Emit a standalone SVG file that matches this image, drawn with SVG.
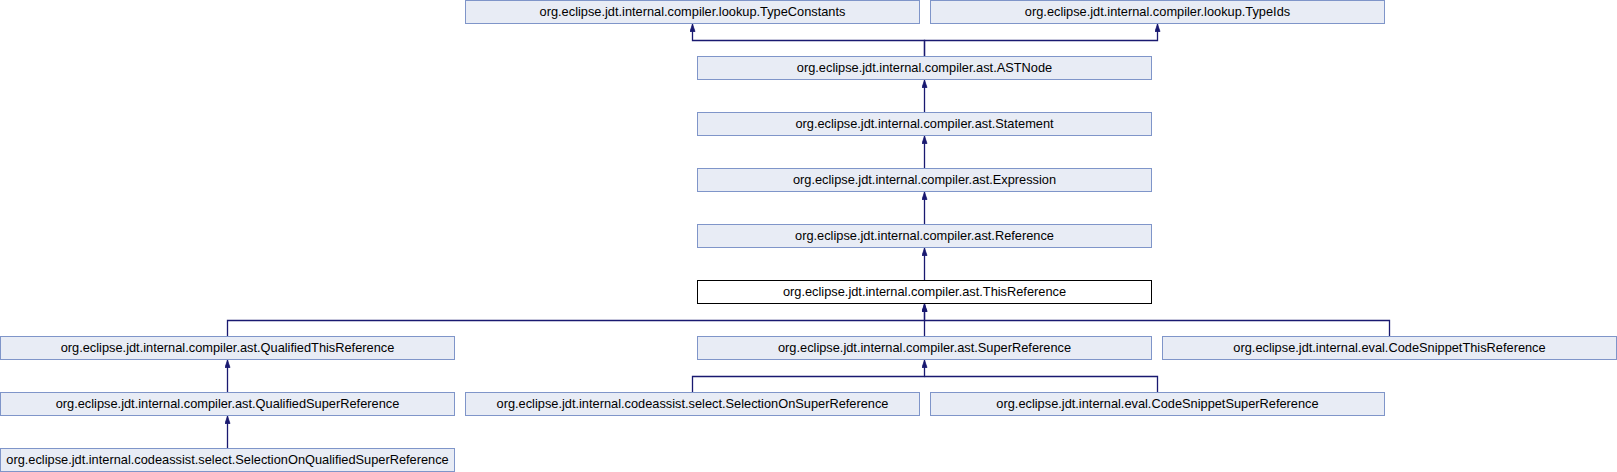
<svg xmlns="http://www.w3.org/2000/svg" width="1617" height="472" viewBox="0 0 1617 472">
<defs>
<style>
.n rect{fill:#e8ecf5;stroke:#7f95c9;stroke-width:1}
.n.cur rect{fill:#ffffff;stroke:#000000}
.n text{font-family:"Liberation Sans",Arial,sans-serif;font-size:12.8px;fill:#000;text-anchor:middle}
.e path{fill:none;stroke:#191970;stroke-width:1.3}
</style>
<marker id="ah" markerWidth="6" markerHeight="8" refX="0" refY="0" orient="0" markerUnits="userSpaceOnUse" viewBox="-3 0 6 8">
<path d="M-2.5,7.5 L0,0.3 L2.5,7.5 Z" fill="#191970" stroke="#191970" stroke-width="0.8"/>
</marker>
</defs>
<rect width="1617" height="472" fill="#fff"/>
<g class="e">
<path d="M924.5,56.5 V40.5 H692.5 V24" marker-end="url(#ah)"/>
<path d="M924.5,56.5 V40.5 H1157.5 V24" marker-end="url(#ah)"/>
<path d="M924.5,112.5 V80" marker-end="url(#ah)"/>
<path d="M924.5,168.5 V136" marker-end="url(#ah)"/>
<path d="M924.5,224.5 V192" marker-end="url(#ah)"/>
<path d="M924.5,280.5 V248" marker-end="url(#ah)"/>
<path d="M227.5,336.5 V320.5 H924.5 V304" marker-end="url(#ah)"/>
<path d="M924.5,336.5 V304" marker-end="url(#ah)"/>
<path d="M1389.5,336.5 V320.5 H924.5"/>
<path d="M227.5,392.5 V360" marker-end="url(#ah)"/>
<path d="M227.5,448.5 V416" marker-end="url(#ah)"/>
<path d="M692.5,392.5 V376.5 H924.5 V360" marker-end="url(#ah)"/>
<path d="M1157.5,392.5 V376.5 H924.5"/>
</g>
<g id="TypeConstants" class="n"><rect x="465.5" y="0.5" width="454" height="23"/><text x="692.5" y="15.5">org.eclipse.jdt.internal.compiler.lookup.TypeConstants</text></g>
<g id="TypeIds" class="n"><rect x="930.5" y="0.5" width="454" height="23"/><text x="1157.5" y="15.5">org.eclipse.jdt.internal.compiler.lookup.TypeIds</text></g>
<g id="ASTNode" class="n"><rect x="697.5" y="56.5" width="454" height="23"/><text x="924.5" y="71.5">org.eclipse.jdt.internal.compiler.ast.ASTNode</text></g>
<g id="Statement" class="n"><rect x="697.5" y="112.5" width="454" height="23"/><text x="924.5" y="127.5">org.eclipse.jdt.internal.compiler.ast.Statement</text></g>
<g id="Expression" class="n"><rect x="697.5" y="168.5" width="454" height="23"/><text x="924.5" y="183.5">org.eclipse.jdt.internal.compiler.ast.Expression</text></g>
<g id="Reference" class="n"><rect x="697.5" y="224.5" width="454" height="23"/><text x="924.5" y="239.5">org.eclipse.jdt.internal.compiler.ast.Reference</text></g>
<g id="ThisReference" class="n cur"><rect x="697.5" y="280.5" width="454" height="23"/><text x="924.5" y="295.5">org.eclipse.jdt.internal.compiler.ast.ThisReference</text></g>
<g id="QualifiedThisReference" class="n"><rect x="0.5" y="336.5" width="454" height="23"/><text x="227.5" y="351.5">org.eclipse.jdt.internal.compiler.ast.QualifiedThisReference</text></g>
<g id="SuperReference" class="n"><rect x="697.5" y="336.5" width="454" height="23"/><text x="924.5" y="351.5">org.eclipse.jdt.internal.compiler.ast.SuperReference</text></g>
<g id="CodeSnippetThisReference" class="n"><rect x="1162.5" y="336.5" width="454" height="23"/><text x="1389.5" y="351.5">org.eclipse.jdt.internal.eval.CodeSnippetThisReference</text></g>
<g id="QualifiedSuperReference" class="n"><rect x="0.5" y="392.5" width="454" height="23"/><text x="227.5" y="407.5">org.eclipse.jdt.internal.compiler.ast.QualifiedSuperReference</text></g>
<g id="SelectionOnSuperReference" class="n"><rect x="465.5" y="392.5" width="454" height="23"/><text x="692.5" y="407.5">org.eclipse.jdt.internal.codeassist.select.SelectionOnSuperReference</text></g>
<g id="CodeSnippetSuperReference" class="n"><rect x="930.5" y="392.5" width="454" height="23"/><text x="1157.5" y="407.5">org.eclipse.jdt.internal.eval.CodeSnippetSuperReference</text></g>
<g id="SelectionOnQualifiedSuperReference" class="n"><rect x="0.5" y="448.5" width="454" height="23"/><text x="227.5" y="463.5">org.eclipse.jdt.internal.codeassist.select.SelectionOnQualifiedSuperReference</text></g>
</svg>
